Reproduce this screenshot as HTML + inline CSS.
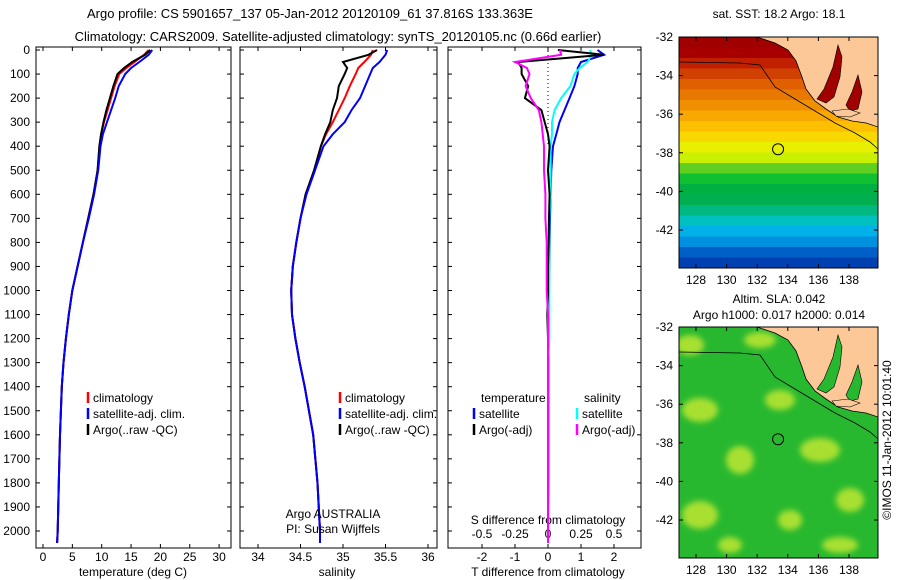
<!DOCTYPE html>
<html><head><meta charset="utf-8">
<style>
body{margin:0;background:#fff;}
svg{display:block;font-family:"Liberation Sans",sans-serif;font-size:12px;}
</style></head>
<body>
<svg id="c" width="900" height="580" viewBox="0 0 900 580">
<rect width="900" height="580" fill="#fff"/>
<text x="310" y="18" text-anchor="middle" font-size="13">Argo profile: CS 5901657_137 05-Jan-2012 20120109_61 37.816S 133.363E</text>
<text x="338" y="41" text-anchor="middle" font-size="13">Climatology: CARS2009. Satellite-adjusted climatology: synTS_20120105.nc (0.66d earlier)</text>
<g id="g"></g>
<defs>
<filter id="bl"><feGaussianBlur stdDeviation="3"/></filter>
<clipPath id="m1"><rect x="679" y="37" width="199" height="231"/></clipPath>
<clipPath id="m2"><rect x="679" y="327" width="199" height="231"/></clipPath>
</defs>
</svg>
<script>
// ---- data ----
const depths   = [0,20,50,75,100,150,200,250,300,350,400,500,600,700,800,900,1000,1100,1200,1300,1400,1600,1800,2000,2050];
const tempClim = [18.0,17.2,15.6,14.2,13.0,12.2,11.6,11.0,10.4,9.9,9.6,9.3,8.6,7.7,6.8,5.9,5.0,4.4,3.9,3.5,3.2,2.9,2.7,2.5,2.4];
const tempSat  = [18.6,18.0,16.4,15.0,14.0,12.9,12.3,11.6,10.9,10.2,9.8,9.4,8.7,7.8,6.8,5.9,5.0,4.4,3.9,3.5,3.2,2.9,2.7,2.5,2.4];
const tempArgo = [18.3,17.4,15.2,13.8,12.7,12.0,11.4,10.8,10.3,9.9,9.6,9.3,8.6,7.7,6.8,5.9,5.0,4.4,3.9,3.5,3.2,2.9,2.7,2.5,2.4];
const salClim  = [35.35,35.33,35.25,35.18,35.15,35.08,35.02,34.95,34.88,34.80,34.74,34.66,34.56,34.50,34.45,34.41,34.39,34.40,34.44,34.49,34.55,34.65,34.70,34.73,34.73];
const salSat   = [35.52,35.50,35.43,35.35,35.32,35.26,35.20,35.10,35.02,34.88,34.77,34.67,34.57,34.50,34.45,34.41,34.39,34.40,34.44,34.49,34.55,34.65,34.70,34.73,34.73];
const salArgo  = [35.40,35.30,35.00,35.05,35.02,34.95,34.93,34.88,34.85,34.79,34.74,34.66,34.56,34.50,34.45,34.41,34.39,34.40,34.44,34.49,34.55,34.65,34.70,34.73,34.73];
const dTsat    = [1.5,1.7,1.0,0.9,0.9,0.8,0.65,0.5,0.35,0.25,0.15,0.1,0.08,0.06,0.05,0.04,0.03,0.02,0.02,0.01,0.01,0.01,0.01,0.0,0.0];
const dTargo   = [0.3,1.7,-0.9,-0.8,-0.8,-0.6,-0.7,-0.2,-0.1,0.0,0.05,0.0,0.05,0.03,0.02,0.0,0.0,-0.02,0.0,0.0,0.0,0.0,0.0,0.0,0.0];
const dSsat    = [0.32,0.33,0.30,0.24,0.2,0.17,0.1,0.05,0.03,0.03,0.02,0.02,0.02,0.01,0.01,0.01,0.01,0.01,0.01,0.0,0.0,0.0,0.0,0.0,0.0];
const dSargo   = [0.09,0.1,-0.25,-0.16,-0.14,-0.17,-0.13,-0.07,-0.05,-0.04,-0.03,-0.03,-0.02,-0.02,-0.01,-0.01,-0.01,0.0,0.0,0.0,0.0,0.0,0.0,0.0,0.0];
const depthTicks = [0,100,200,300,400,500,600,700,800,900,1000,1100,1200,1300,1400,1500,1600,1700,1800,1900,2000];
const tTicks = [0,5,10,15,20,25,30];
const sTicks = ["34","34.5","35","35.5","36"];
const dtTicks = [-2,-1,0,1,2];
const dsTicks = ["-0.5","-0.25","0","0.25","0.5"];
const lonTicks = [128,130,132,134,136,138];
const latTicks = [-32,-34,-36,-38,-40,-42];
const sstBands = ["#a00000","#a80000","#c02000","#d04000","#e06000","#e87800","#f09000","#f8a800","#fcc000","#f8d800","#e8f000","#c8f000","#60d020","#10c030","#00b040","#00b050","#00b880","#00c0c0","#00b0e8","#0090e0","#0060c8","#0040b0"];
const slaBlobs = [[690,345,14,10],[760,340,16,8],[700,410,18,12],[780,400,15,10],[740,460,14,14],[820,450,20,12],[700,515,18,14],[790,520,12,10],[850,500,14,12],[730,545,12,8],[840,545,18,8]];

const NS="http://www.w3.org/2000/svg";
const G=document.getElementById('g');
function mk(t,a,p){const e=document.createElementNS(NS,t);for(const k in a)e.setAttribute(k,a[k]);(p||G).appendChild(e);return e;}
const yD=d=>50+d*0.2405;
const xT=t=>43+5.87*t;
const xS=s=>258+85*(s-34);
const xDT=v=>548+33*v;
const xDS=v=>548+132*v;
const panels=[[36,231],[240,437],[448,641]];
const PT=47,PB=548;

panels.forEach((p,i)=>{
  const r=mk('rect',{x:p[0],y:PT,width:p[1]-p[0],height:PB-PT,fill:'none',stroke:'#000'});
  
  
  depthTicks.forEach(d=>{
    mk('line',{x1:p[0],x2:p[0]+4,y1:yD(d),y2:yD(d),stroke:'#000'});
    mk('line',{x1:p[1],x2:p[1]-4,y1:yD(d),y2:yD(d),stroke:'#000'});
  });
});
depthTicks.forEach(d=>{
  const t=mk('text',{x:30,y:yD(d)+4,'text-anchor':'end'});t.textContent=d;
  
  
});
function xAxis(ticks,fx,p,yl){
  ticks.forEach(v=>{const x=fx(+v);
    mk('line',{x1:x,x2:x,y1:PB,y2:PB-4,stroke:'#000'});
    mk('line',{x1:x,x2:x,y1:PT,y2:PT+4,stroke:'#000'});
    const t=mk('text',{x:x,y:yl,'text-anchor':'middle'});t.textContent=v;
    
    
  });
}
xAxis(tTicks,xT,panels[0],561);
xAxis(sTicks,xS,panels[1],561);
xAxis(dtTicks,xDT,panels[2],561);
dsTicks.forEach(v=>{const t=mk('text',{x:xDS(+v),y:538,'text-anchor':'middle'});t.textContent=v;
  
  });
[["temperature (deg C)",133,576],["salinity",337,576],["T difference from climatology",548,576],["S difference from climatology",548,524]].forEach(a=>{
  const t=mk('text',{x:a[1],y:a[2],'text-anchor':'middle'});t.textContent=a[0];
  
  
});
mk('line',{x1:548,x2:548,y1:PT,y2:yD(400),stroke:'#000','stroke-dasharray':'1,3'});

function line(vals,fx,col,name){
  const pts=vals.map((v,i)=>fx(v).toFixed(1)+','+yD(depths[i]).toFixed(1)).join(' ');
  const e=mk('polyline',{points:pts,fill:'none',stroke:col,'stroke-width':2});
  
  
}
line(tempClim,xT,'#f00','temp-climatology-line');
line(tempArgo,xT,'#000','temp-argo-line');
line(tempSat,xT,'#00f','temp-satellite-line');
line(salClim,xS,'#f00','sal-climatology-line');
line(salArgo,xS,'#000','sal-argo-line');
line(salSat,xS,'#00f','sal-satellite-line');
line(dTsat,xDT,'#00f','dT-satellite-line');
line(dSsat,xDS,'#0ff','dS-satellite-line');
line(dTargo,xDT,'#000','dT-argo-line');
line(dSargo,xDS,'#f0f','dS-argo-line');

function legend(x,y,items,nm){
  items.forEach((it,i)=>{
    mk('line',{x1:x,x2:x,y1:y+i*16-6,y2:y+i*16+5,stroke:it[1],'stroke-width':2.5});
    const t=mk('text',{x:x+5,y:y+i*16+4});t.textContent=it[0];
    
    
  });
}
legend(88,398,[["climatology","#f00"],["satellite-adj. clim.","#00f"],["Argo(..raw -QC)","#000"]],'legend-entry');
legend(340,398,[["climatology","#f00"],["satellite-adj. clim.","#00f"],["Argo(..raw -QC)","#000"]],'legend-entry');
legend(474,414,[["satellite","#00f"],["Argo(-adj)","#000"]],'legend-entry');
legend(577,414,[["satellite","#0ff"],["Argo(-adj)","#f0f"]],'legend-entry');
[["temperature",481,402],["salinity",584,402],["Argo AUSTRALIA",333,518],["PI: Susan Wijffels",333,533]].forEach(a=>{
  const t=mk('text',{x:a[1],y:a[2],'text-anchor':a[1]==333?'middle':'start'});t.textContent=a[0];
  
  
});

// ---- maps ----
const lonX=l=>696+15.3*(l-128);
function map(y0,clip,fillFn,gulf,nm){
  const g=mk('g',{'clip-path':'url(#'+clip+')'});
  
  
  fillFn(g);
  const land=[[757,0],[878,0],[878,90],[866,86],[852,84],[838,80],[826,72],[815,64],[806,52],[802,40],[796,24],[788,13],[775,6],[757,0]];
  mk('polygon',{points:land.map(p=>p[0]+','+(p[1]+y0)).join(' '),fill:'#fcc898',stroke:'#000','stroke-width':0.8},g);
  mk('polygon',{points:[[838,8],[833,30],[824,52],[817,62],[826,66],[834,60],[840,40],[842,20]].map(p=>p[0]+','+(p[1]+y0)).join(' '),fill:gulf,stroke:'#000','stroke-width':0.6},g);
  mk('polygon',{points:[[858,38],[852,55],[846,68],[850,74],[858,72],[862,55]].map(p=>p[0]+','+(p[1]+y0)).join(' '),fill:gulf,stroke:'#000','stroke-width':0.6},g);
  mk('polygon',{points:[[832,74],[848,72],[860,76],[850,80],[836,79]].map(p=>p[0]+','+(p[1]+y0)).join(' '),fill:'#fcc898',stroke:'#000','stroke-width':0.6},g);
  mk('polyline',{points:[[679,25],[740,26],[760,28],[775,50],[795,62],[815,74],[835,86],[855,96],[870,105],[878,112]].map(p=>p[0]+','+(p[1]+y0)).join(' '),fill:'none',stroke:'#000','stroke-width':0.8},g);
  mk('rect',{x:679,y:y0,width:199,height:231,fill:'none',stroke:'#000'});
  mk('circle',{cx:lonX(133.363),cy:y0+19.3*(37.816-32),r:5.5,fill:'none',stroke:'#000'});
  lonTicks.forEach(l=>{
    mk('line',{x1:lonX(l),x2:lonX(l),y1:y0+231,y2:y0+227,stroke:'#000'});
    mk('line',{x1:lonX(l),x2:lonX(l),y1:y0,y2:y0+4,stroke:'#000'});
    const t=mk('text',{x:lonX(l),y:y0+247,'text-anchor':'middle'});t.textContent=l;
    
    
  });
  latTicks.forEach(l=>{const y=y0+19.3*(-32-l);
    mk('line',{x1:679,x2:683,y1:y,y2:y,stroke:'#000'});
    mk('line',{x1:878,x2:874,y1:y,y2:y,stroke:'#000'});
    const t=mk('text',{x:673,y:y+4,'text-anchor':'end'});t.textContent=l;
    
    
  });
}
map(37,'m1',g=>{
  const h=231/sstBands.length;
  sstBands.forEach((c,i)=>{const r=mk('rect',{x:679,y:37+i*h,width:199,height:h+1,fill:c},g);
    
    });
},'#a00000','sst-map');
map(327,'m2',g=>{
  mk('rect',{x:679,y:327,width:199,height:231,fill:'#28b830'},g);
  const b=mk('g',{filter:'url(#bl)'},g);
  slaBlobs.forEach(s=>{const e=mk('ellipse',{cx:s[0],cy:s[1],rx:s[2],ry:s[3],fill:'#a8e030'},b);
    
    });
},'#28b830','sla-map');
[["sat. SST: 18.2 Argo: 18.1",779,18],["Altim. SLA: 0.042",779,303],["Argo h1000: 0.017 h2000: 0.014",779,319]].forEach(a=>{
  const t=mk('text',{x:a[1],y:a[2],'text-anchor':'middle'});t.textContent=a[0];
  
  
});
const cr=mk('text',{x:891,y:440,'text-anchor':'middle',transform:'rotate(-90 891 440)'});
cr.textContent='©IMOS 11-Jan-2012 10:01:40';


</script>
</body></html>
